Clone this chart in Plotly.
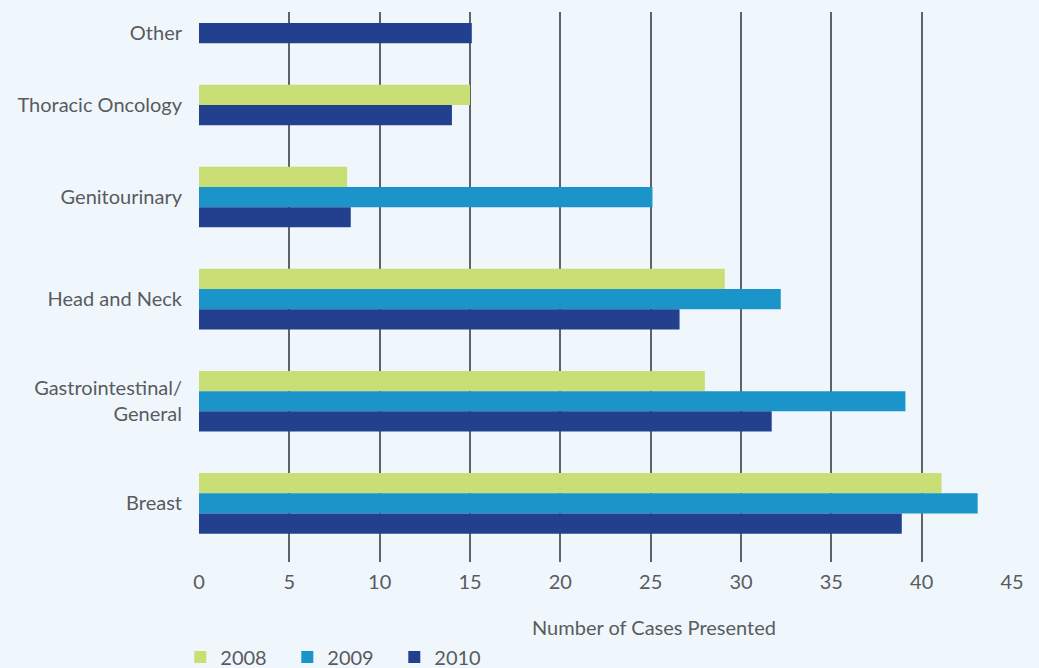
import plotly.graph_objects as go

# Data (categories listed bottom to top)
categories = ["Breast", "Gastrointestinal/<br>General", "Head and Neck",
              "Genitourinary", "Thoracic Oncology", "Other"]
years = ["2008", "2009", "2010"]
v2008 = [41.1, 28.0, 29.1, 8.2, 15.0, None]
v2009 = [43.1, 39.1, 32.2, 25.1, None, None]
v2010 = [38.9, 31.7, 26.6, 8.4, 14.0, 15.1]
x_ticks = [0, 5, 10, 15, 20, 25, 30, 35, 40, 45]

colors = {"2008": "#c9de74", "2009": "#1a94c9", "2010": "#23408e"}
values = {"2008": v2008, "2009": v2009, "2010": v2010}

# Layout bars contiguously within a group (missing series collapse), gap between groups
GAP = 2.05
pos = 0.0
ypos = {y: [] for y in years}
xval = {y: [] for y in years}
centers = []
for i, cat in enumerate(categories):
    placed = []
    for yr in ["2010", "2009", "2008"]:  # bottom to top inside the group
        v = values[yr][i]
        if v is None:
            continue
        ypos[yr].append(pos)
        xval[yr].append(v)
        placed.append(pos)
        pos += 1
    centers.append(sum(placed) / len(placed))
    pos += GAP

fig = go.Figure()
for yr in years:
    fig.add_trace(go.Bar(
        x=xval[yr], y=ypos[yr], orientation="h", name=yr, width=1.0,
        marker=dict(color=colors[yr], line=dict(width=0)),
        hoverinfo="x+name",
    ))

text_color = "#5a5b5d"
bg = "#eff7fd"
font_family = "Lato, 'Open Sans', sans-serif"

fig.update_layout(
    width=1039, height=668,
    paper_bgcolor=bg, plot_bgcolor=bg,
    margin=dict(l=199, r=27, t=12, b=106, autoexpand=False),
    font=dict(family=font_family, size=20, color=text_color),
    barmode="overlay",
    showlegend=True,
    legend=dict(orientation="h", x=-0.023, xanchor="left",
                yref="container", y=1 - 657 / 668, yanchor="middle",
                font=dict(size=20, color=text_color), entrywidth=62, entrywidthmode="pixels",
                traceorder="normal", bgcolor="rgba(0,0,0,0)"),
    xaxis=dict(range=[0, 45], tickvals=x_ticks, showgrid=True, gridcolor="#606365",
               gridwidth=1.5, zeroline=False, showline=False, ticks="",
               tickfont=dict(size=20, color=text_color), ticklabelstandoff=6),
    yaxis=dict(range=[-1.9, 25.3], tickvals=centers, ticktext=categories,
               showgrid=False, zeroline=False, showline=False, ticks="",
               tickfont=dict(size=20, color=text_color), ticklabelstandoff=16),
    annotations=[dict(text="Number of Cases Presented", xref="paper", yref="paper",
                      x=0.56, y=-0.118, xanchor="center", yanchor="middle",
                      showarrow=False, font=dict(size=20, color=text_color))],
)

fig.write_html(
    "out.html",
    config={"displayModeBar": False},
    post_script="document.body.style.margin='0';document.body.style.background='%s';" % bg,
)
